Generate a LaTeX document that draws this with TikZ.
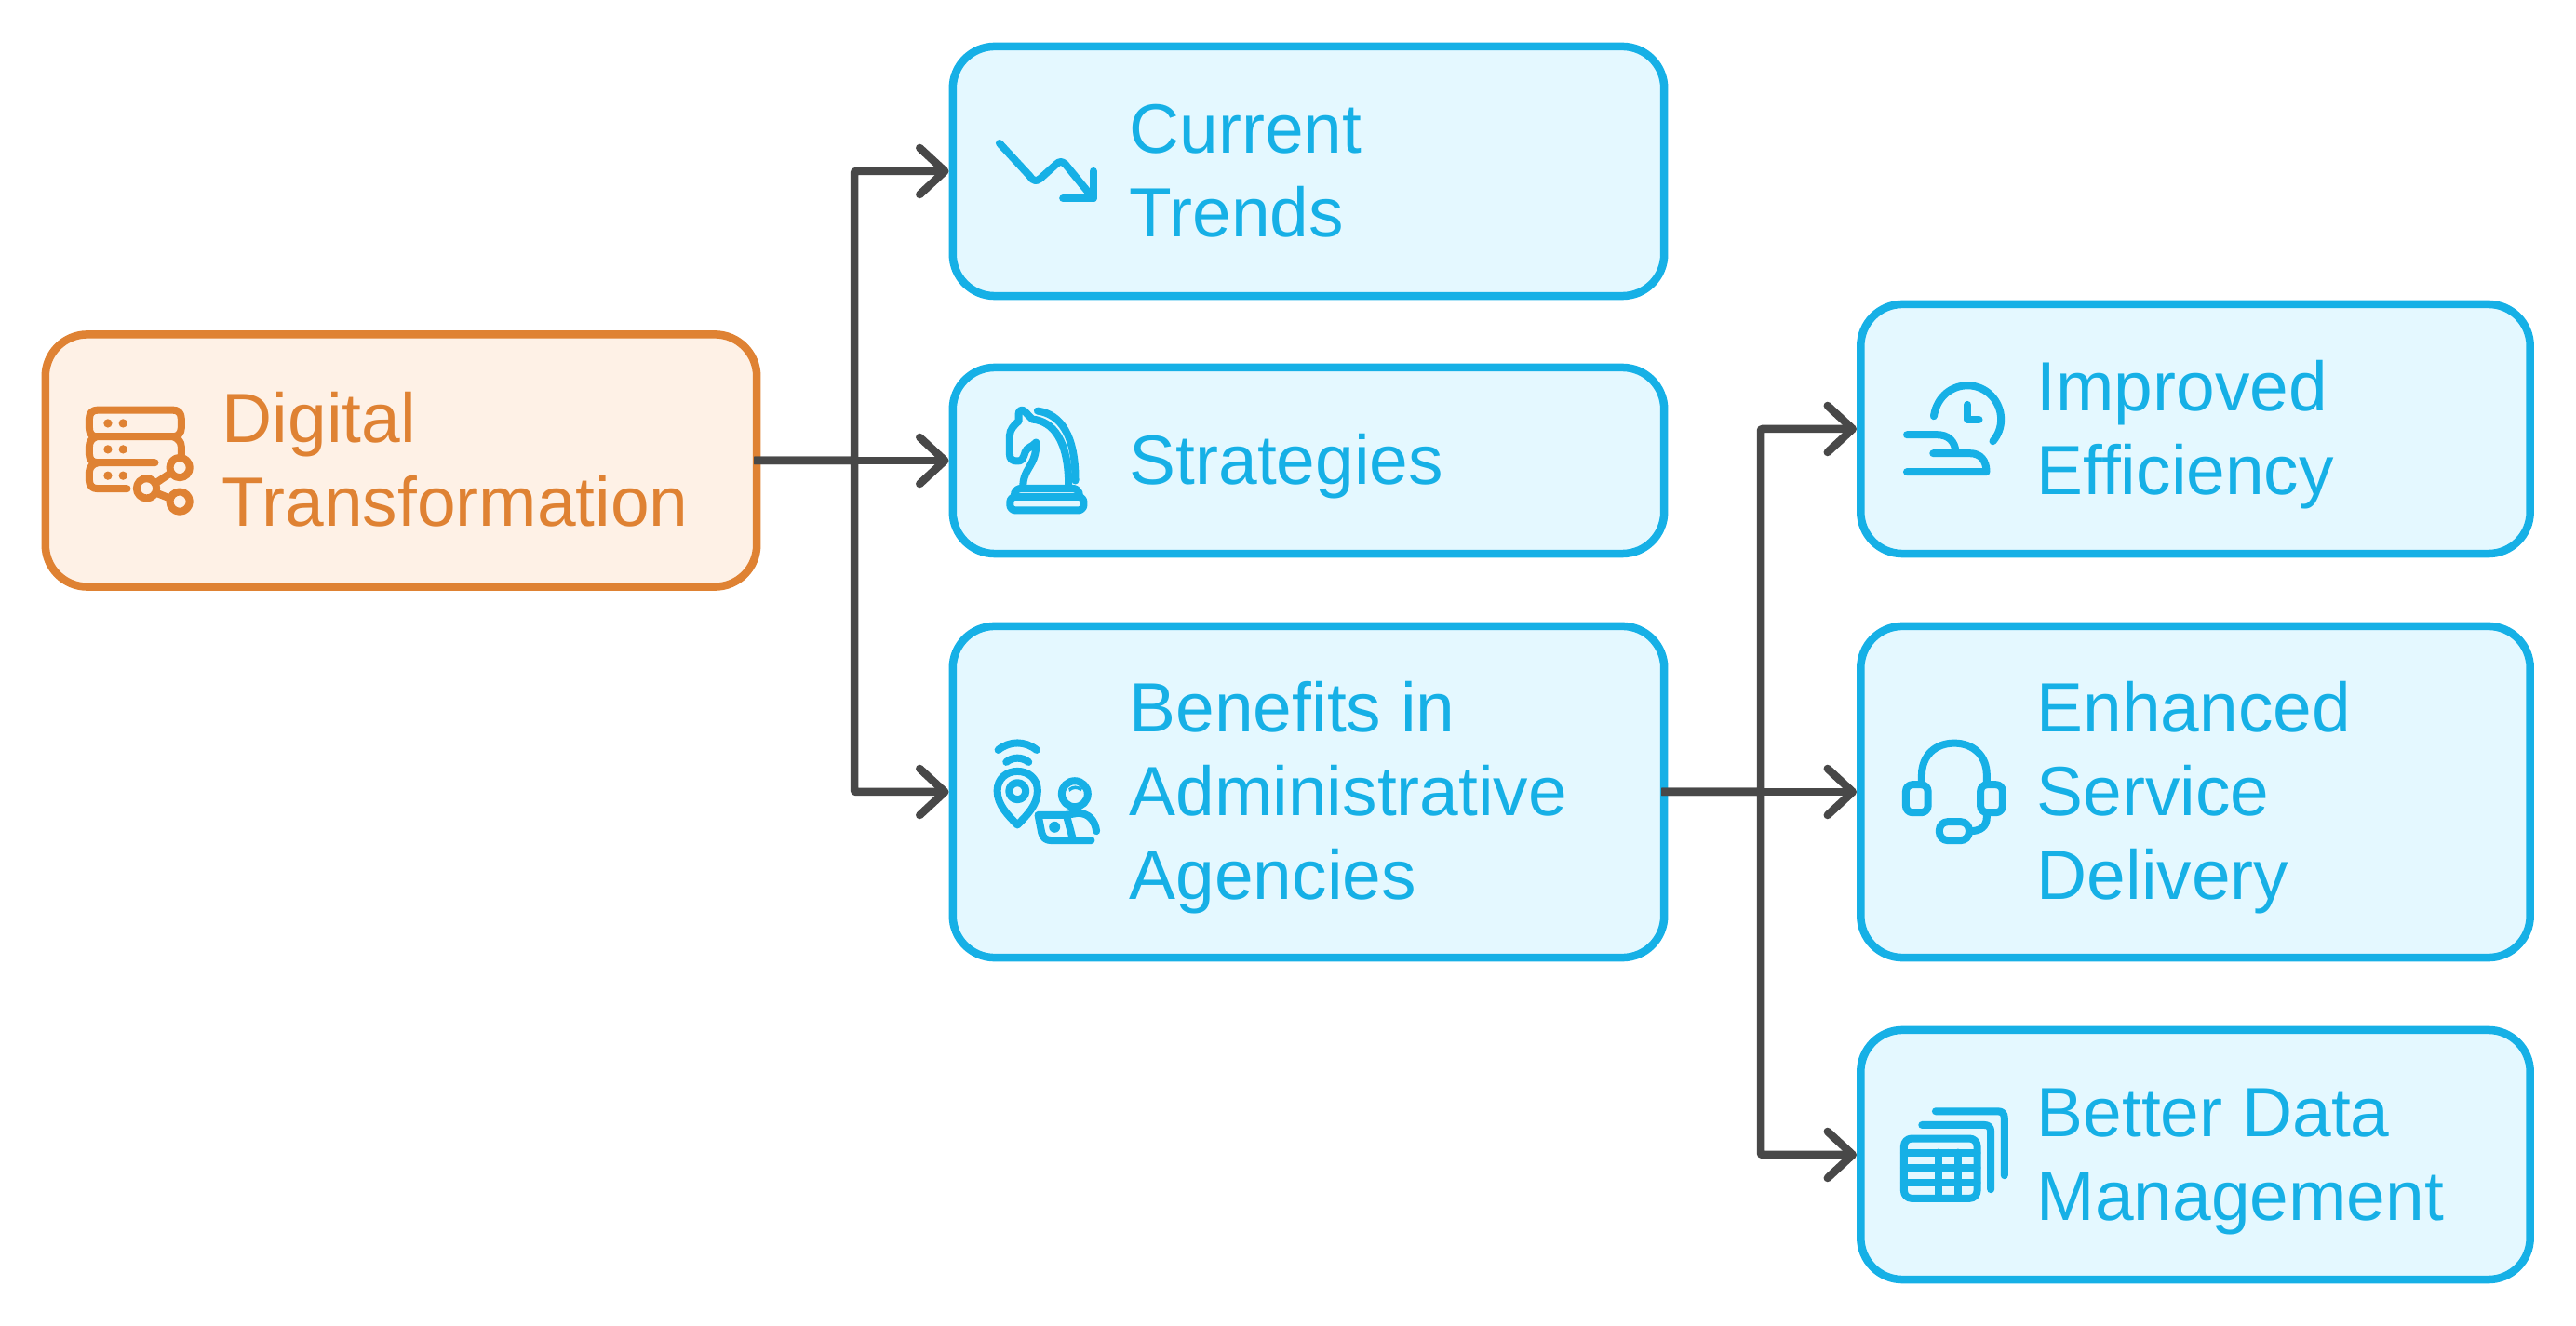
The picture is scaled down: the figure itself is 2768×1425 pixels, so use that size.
\documentclass[tikz,border=0pt]{standalone}
\usepackage{fontspec}
\setmainfont{Liberation Sans}
\usetikzlibrary{arrows.meta, positioning, calc}
\definecolor{flowgray}{RGB}{72,72,72}
\definecolor{skyline}{RGB}{22,176,230}
\definecolor{skyfill}{RGB}{228,248,255}
\definecolor{amberline}{RGB}{223,130,51}
\definecolor{amberfill}{RGB}{254,241,230}
\tikzset{
  card/.style={draw, rounded corners=0.45cm, line width=0.085cm, inner sep=0pt, minimum width=#1},
  bluecard/.style={card=7.64cm, draw=skyline, fill=skyfill},
  sidecard/.style={card=7.19cm, draw=skyline, fill=skyfill},
  label/.style={anchor=base west, align=left, inner sep=0pt, font=\fontsize{21.3}{25.6}\selectfont},
  flow/.style={line width=0.085cm, flowgray, rounded corners=0.02cm, shorten <=-0.07cm, -{Straight Barb[length=0.27cm, width=0.5cm, round]}},
  glyph/.style={line width=0.08cm, line cap=round, line join=round},
  zone/.style={shift={#1}, x=0.003333cm, y=-0.003333cm}
}
\begin{document}
\begin{tikzpicture}[x=0.01cm, y=-0.01cm]
  \useasboundingbox (0,0) rectangle (2768,1425);

  % cards
  \node[card=7.64cm, draw=amberline, fill=amberfill, minimum height=2.71cm] (digital) at (431,495) {};
  \node[bluecard, minimum height=2.68cm] (trends) at (1406,184) {};
  \node[bluecard, minimum height=2.00cm] (strategies) at (1406,495) {};
  \node[bluecard, minimum height=3.56cm] (benefits) at (1406,851) {};
  \node[sidecard, minimum height=2.68cm] (improved) at (2359,461) {};
  \node[sidecard, minimum height=3.56cm] (enhanced) at (2359,851) {};
  \node[sidecard, minimum height=2.68cm] (better) at (2359,1241) {};

  % labels, placed by the baseline of their last line
  \node[label, amberline] (digitaltext) at (238,566) {Digital\\Transformation};
  \node[label, skyline] (trendstext) at (1213,255) {Current\\Trends};
  \node[label, skyline] (strategiestext) at (1213,521) {Strategies};
  \node[label, skyline] (benefitstext) at (1213,967) {Benefits in\\Administrative\\Agencies};
  \node[label, skyline] (improvedtext) at (2188,532) {Improved\\Efficiency};
  \node[label, skyline] (enhancedtext) at (2188,967) {Enhanced\\Service\\Delivery};
  \node[label, skyline] (bettertext) at (2188,1312) {Better Data\\Management};

  % connectors
  \coordinate (forkleft) at (918,495);
  \coordinate (forkright) at (1892,851);
  \draw[flow] (digital.east) -- (forkleft) |- (trends.west);
  \draw[flow] (digital.east) -- (strategies.west);
  \draw[flow] (digital.east) -- (forkleft) |- (benefits.west);
  \draw[flow] (benefits.east) -- (forkright) |- (improved.west);
  \draw[flow] (benefits.east) -- (enhanced.west);
  \draw[flow] (benefits.east) -- (forkright) |- (better.west);

  % server icon
  \begin{scope}[zone={(70,420)}, glyph, amberline]
    \draw (100,148) .. controls (85,148) and (78,135) .. (78,120) -- (78,90) .. controls (78,72) and (88,62) .. (105,62) -- (348,62) .. controls (365,62) and (375,72) .. (375,90) -- (375,120) .. controls (375,135) and (365,148) .. (350,148) -- cycle;
    \draw (100,148) .. controls (85,155) and (78,165) .. (78,180) -- (78,205) .. controls (78,222) and (88,232) .. (105,232) -- (290,232);
    \draw (350,148) .. controls (365,155) and (375,165) .. (375,180) -- (375,208);
    \draw (105,232) .. controls (88,236) and (78,248) .. (78,262) -- (78,290) .. controls (78,306) and (88,316) .. (105,316) -- (200,316);
    \foreach \px/\py in {138/105, 187/105, 138/189, 187/189, 138/274, 187/274}
      \fill (\px,\py) circle (14);
    \draw (370,248) circle (32) (263,315) circle (32) (370,358) circle (32);
    \draw (296,296) -- (337,268) (295,330) -- (335,346);
  \end{scope}

  % falling trend icon
  \begin{scope}[zone={(1040,130)}, glyph, skyline]
    \draw (102,72) -- (200,178) .. controls (212,196) and (222,196) .. (235,185) -- (285,140) .. controls (295,130) and (305,130) .. (315,140) -- (405,250);
    \draw (307,250) -- (405,250) -- (405,162);
  \end{scope}

  % knight icon
  \begin{scope}[zone={(1050,410)}, glyph, skyline]
    \draw (148,335) .. controls (150,295) and (170,280) .. (182,250) .. controls (190,230) and (190,215) .. (190,197) .. controls (178,212) and (160,212) .. (155,228) .. controls (148,250) and (145,257) .. (130,257) .. controls (112,257) and (105,250) .. (105,235) -- (105,175) .. controls (105,155) and (120,140) .. (134,128) -- (134,105) .. controls (134,92) and (145,90) .. (152,95) -- (178,122) .. controls (245,128) and (295,190) .. (295,335);
    \draw (195,95) .. controls (270,105) and (318,175) .. (317,320);
    \draw (120,362) .. controls (125,350) and (132,345) .. (145,345) -- (305,345) .. controls (318,345) and (325,350) .. (330,362);
    \draw[rounded corners=0.06cm] (106,372) rectangle (344,416);
  \end{scope}

  % location and laptop icon
  \begin{scope}[zone={(1050,770)}, glyph, skyline]
    \draw (68,108) .. controls (105,78) and (155,78) .. (192,108);
    \draw (94,147) .. controls (115,130) and (145,130) .. (166,147);
    \draw (130,350) .. controls (100,320) and (65,285) .. (65,240) .. controls (65,200) and (95,177) .. (130,177) .. controls (165,177) and (195,200) .. (195,240) .. controls (195,285) and (160,320) .. (130,350) -- cycle;
    \draw (130,241) circle (27);
    \draw (315,250) circle (42);
    \fill (295,232) .. controls (310,220) and (325,222) .. (340,232) -- (335,241) .. controls (322,232) and (310,232) .. (298,243) -- cycle;
    \draw (368,400) -- (240,400) .. controls (222,400) and (212,392) .. (208,375) -- (197,318) -- (288,318) -- (310,400);
    \draw (288,318) -- (325,312) .. controls (360,312) and (380,335) .. (385,370);
    \fill (250,357) circle (18);
  \end{scope}

  % clock and hand icon
  \begin{scope}[zone={(2030,390)}, glyph, skyline]
    \draw (144,172) .. controls (155,105) and (205,73) .. (253,73) .. controls (315,73) and (361,125) .. (361,182) .. controls (361,210) and (352,232) .. (335,253);
    \draw (253,135) -- (253,183) -- (290,183);
    \draw (57,232) -- (155,232) .. controls (190,232) and (212,252) .. (215,288);
    \draw (142,292) -- (260,292) .. controls (295,292) and (314,315) .. (314,352) -- (57,352);
  \end{scope}

  % headset icon
  \begin{scope}[zone={(2030,780)}, glyph, skyline]
    \draw (105,185) -- (105,160) .. controls (105,95) and (150,56) .. (210,56) .. controls (270,56) and (315,95) .. (315,160) -- (315,185);
    \draw[rounded corners=0.07cm] (54,190) rectangle (125,280);
    \draw[rounded corners=0.07cm] (295,190) rectangle (366,280);
    \draw (315,280) -- (315,295) .. controls (315,325) and (295,340) .. (262,340);
    \draw[rounded corners=0.09cm] (162,310) rectangle (258,370);
  \end{scope}

  % stacked table icon
  \begin{scope}[zone={(2030,1170)}, glyph, skyline]
    \draw (150,73) -- (350,73) .. controls (365,73) and (372,80) .. (372,95) -- (372,280);
    \draw (106,117) -- (306,117) .. controls (321,117) and (328,124) .. (328,139) -- (328,325);
    \draw[rounded corners=0.08cm] (48,161) rectangle (284,354);
    \draw (48,206) -- (284,206) (48,256) -- (284,256) (48,304) -- (284,304);
    \draw (158,206) -- (158,354) (221,206) -- (221,354);
  \end{scope}
\end{tikzpicture}
\end{document}
